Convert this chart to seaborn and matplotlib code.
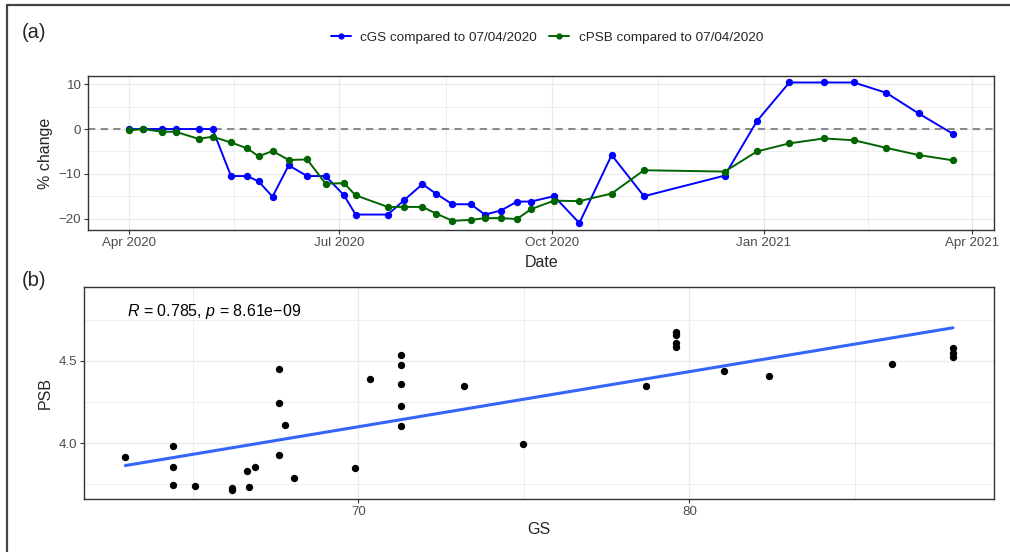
import matplotlib
matplotlib.use("Agg")
import matplotlib.pyplot as plt
from matplotlib.lines import Line2D
import numpy as np
import pandas as pd
import seaborn as sns

# (a) percent change against the first survey (07/04/2020)
dates = [
    "2020-04-01", "2020-04-07", "2020-04-15", "2020-04-21", "2020-05-01", "2020-05-07",
    "2020-05-15", "2020-05-22", "2020-05-27", "2020-06-02", "2020-06-09", "2020-06-17",
    "2020-06-25", "2020-07-03", "2020-07-08", "2020-07-22", "2020-07-29", "2020-08-06",
    "2020-08-12", "2020-08-19", "2020-08-27", "2020-09-02", "2020-09-09", "2020-09-16",
    "2020-09-22", "2020-10-02", "2020-10-13", "2020-10-27", "2020-11-10", "2020-12-15",
    "2020-12-29", "2021-01-12", "2021-01-27", "2021-02-09", "2021-02-23", "2021-03-09",
    "2021-03-24",
]
cgs = [
    0, 0, 0, 0, 0, 0, -10.5, -10.5, -11.7, -15.1, -8.1, -10.5, -10.5,
    -14.8, -19.1, -19.1, -15.9, -12.3, -14.5, -16.8, -16.8, -19.1, -18.2, -16.2, -16.2,
    -15.0, -21.0, -5.8, -15.0,
    -10.4, 1.8, 10.4, 10.4, 10.4, 8.1, 3.5, -1.1,
]
cpsb = [
    -0.3, 0, -0.6, -0.6, -2.2, -1.7, -3.0, -4.3, -6.1, -4.9, -6.9, -6.8, -12.2,
    -12.1, -14.8, -17.4, -17.4, -17.4, -18.9, -20.5, -20.3, -19.9, -19.9, -20.1, -17.9,
    -16.0, -16.1, -14.4, -9.2,
    -9.5, -5.0, -3.2, -2.1, -2.5, -4.2, -5.8, -7.0,
]
series_names = ["cGS compared to 07/04/2020", "cPSB compared to 07/04/2020"]
series_colors = ["#0000FF", "#006400"]
date_ticks = ["2020-04-01", "2020-07-01", "2020-10-01", "2021-01-01", "2021-04-01"]
date_tick_labels = ["Apr 2020", "Jul 2020", "Oct 2020", "Jan 2021", "Apr 2021"]

# (b) PSB against GS
gs = [62.96, 64.39, 64.39, 64.39, 65.05, 66.19, 66.19, 66.65, 66.69, 66.89, 67.60, 67.60,
      67.60, 67.79, 68.04, 69.89, 70.35, 71.29, 71.29, 71.29, 71.29, 71.29, 73.20, 74.98,
      78.69, 79.59, 79.59, 79.59, 79.59, 81.03, 82.41, 86.11, 87.96, 87.96, 87.96]
psb = [3.919, 3.985, 3.858, 3.745, 3.741, 3.727, 3.715, 3.834, 3.735, 3.854, 4.451, 4.247,
       3.927, 4.111, 3.789, 3.852, 4.390, 4.538, 4.475, 4.360, 4.228, 4.103, 4.350, 3.998,
       4.348, 4.678, 4.658, 4.607, 4.587, 4.437, 4.409, 4.481, 4.581, 4.550, 4.524]
cor_label = "$R$ = 0.785, $p$ = 8.61e\u221209"

sns.set_theme(style="white")
plt.rcParams["font.family"] = ["Liberation Sans", "DejaVu Sans"]
plt.rcParams["mathtext.fontset"] = "custom"
plt.rcParams["mathtext.rm"] = "Liberation Sans"
plt.rcParams["mathtext.it"] = "Liberation Sans:italic"

GRID = "#EBEBEB"
TICK_TXT = "#4D4D4D"
BORDER = "#333333"


def style_axes(ax):
    for sp in ax.spines.values():
        sp.set_visible(True)
        sp.set_color(BORDER)
        sp.set_linewidth(1.0)
    ax.tick_params(axis="both", which="major", length=3, width=0.8, color=BORDER,
                   labelcolor=TICK_TXT, labelsize=9.6, pad=2, left=True, bottom=True)
    ax.tick_params(axis="both", which="minor", length=0)
    ax.grid(True, which="major", color=GRID, lw=1.0)
    ax.grid(True, which="minor", color=GRID, lw=0.6)
    ax.set_axisbelow(True)


fig = plt.figure(figsize=(10.1, 5.52), dpi=100)
W, H = 1010, 552

# ---- panel (a)
ax1 = fig.add_axes([88.3 / W, 1 - 230 / H, 906 / W, 154 / H])
df = pd.DataFrame({
    "date": pd.to_datetime(dates * 2),
    "value": cgs + cpsb,
    "series": [series_names[0]] * len(dates) + [series_names[1]] * len(dates),
})
ax1.axhline(0, color="#808080", lw=1.3, ls=(0, (4, 3)), zorder=1)
sns.lineplot(data=df, x="date", y="value", hue="series", palette=series_colors,
             marker="o", markersize=5.3, markeredgewidth=0, linewidth=1.4,
             legend=False, ax=ax1, zorder=3)
t0 = pd.Timestamp("2020-04-01")
ax1.set_xlim(t0 - pd.Timedelta(days=17.85), t0 + pd.Timedelta(days=374.85))
ax1.set_ylim(-22.55, 11.85)
ticks = pd.to_datetime(date_ticks)
ax1.set_xticks(ticks)
ax1.set_xticklabels(date_tick_labels)
ax1.set_xticks([ticks[i] + (ticks[i + 1] - ticks[i]) / 2 for i in range(len(ticks) - 1)], minor=True)
ax1.set_yticks([-20, -10, 0, 10])
ax1.set_yticks([-15, -5, 5], minor=True)
style_axes(ax1)
ax1.set_xlabel("Date", fontsize=11.5, labelpad=4)
ax1.set_ylabel("% change", fontsize=11.5, labelpad=4)

handles = [Line2D([], [], color=c, marker="o", markersize=4.5, markeredgewidth=0, lw=1.4)
           for c in series_colors]
fig.legend(handles, series_names, loc="center", bbox_to_anchor=(547 / W, 1 - 38 / H),
           ncol=2, frameon=False, fontsize=9.7, handlelength=1.5, handletextpad=0.7,
           columnspacing=0.9)

# ---- panel (b)
ax2 = fig.add_axes([84.3 / W, 1 - 499.3 / H, 910 / W, 212.6 / H])
dfb = pd.DataFrame({"GS": gs, "PSB": psb})
sns.regplot(data=dfb, x="GS", y="PSB", ci=None, ax=ax2,
            scatter_kws=dict(s=28, color="black", linewidths=0, alpha=1, zorder=3),
            line_kws=dict(color="#3366FF", lw=2.2, zorder=2))
ax2.set_xlim(61.72, 89.21)
ax2.set_ylim(3.66, 4.951)
ax2.set_xticks([70, 80])
ax2.set_xticks([65, 75, 85], minor=True)
ax2.set_yticks([4.0, 4.5])
ax2.set_yticks([3.75, 4.25, 4.75], minor=True)
style_axes(ax2)
ax2.set_xlabel("GS", fontsize=11.5, labelpad=3)
ax2.set_ylabel("PSB", fontsize=11.5, labelpad=4)
ax2.text(63.0, 4.803, cor_label, ha="left", va="center", fontsize=11.5, color="black")

# panel tags and outer frame
fig.text(22 / W, 1 - 32 / H, "(a)", fontsize=14.5, ha="left", va="center")
fig.text(22 / W, 1 - 280 / H, "(b)", fontsize=14.5, ha="left", va="center")
fig.add_artist(Line2D([7 / W, 7 / W], [0, 1 - 5 / H], transform=fig.transFigure,
                      color="#444444", lw=1.6))
fig.add_artist(Line2D([7 / W, 1], [1 - 5 / H, 1 - 5 / H], transform=fig.transFigure,
                      color="#444444", lw=1.6))

fig.savefig("out.png", dpi=100)
